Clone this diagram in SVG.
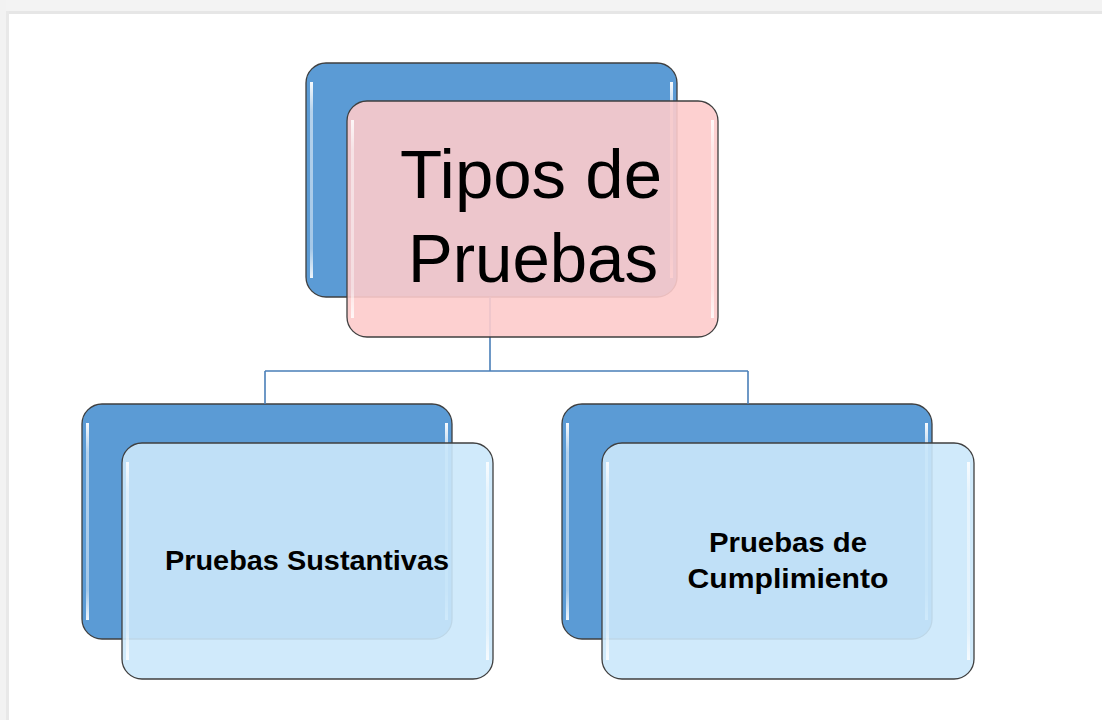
<svg xmlns="http://www.w3.org/2000/svg" width="1102" height="720" viewBox="0 0 1102 720">
  <style>
    .back { fill: #5b9bd5; stroke: #3f3f3f; stroke-width: 1.3; }
    .front-pink { fill: #fdcbcb; fill-opacity: 0.9; stroke: #3f3f3f; stroke-width: 1.3; }
    .front-blue { fill: #cbe8fb; fill-opacity: 0.9; stroke: #3f3f3f; stroke-width: 1.3; }
    .gloss { stroke: #ffffff; stroke-width: 3; stroke-linecap: round; fill: none; }
    .conn { fill: none; stroke: #4a7fb8; stroke-width: 1.6; }
    .big { font-family: "Liberation Sans", Arial, sans-serif; font-size: 68px; fill: #000; text-anchor: middle; }
    .small { font-family: "Liberation Sans", Arial, sans-serif; font-weight: bold; font-size: 28px; fill: #000; text-anchor: middle; }
  </style>
  <defs>
    <linearGradient id="glossV" x1="0" y1="0" x2="0" y2="1">
      <stop offset="0" stop-color="#fff" stop-opacity="0.95"/>
      <stop offset="0.15" stop-color="#fff" stop-opacity="0.55"/>
      <stop offset="0.85" stop-color="#fff" stop-opacity="0.45"/>
      <stop offset="1" stop-color="#fff" stop-opacity="0.9"/>
    </linearGradient>
  </defs>

  <!-- page background -->
  <rect x="0" y="0" width="1102" height="720" fill="#ffffff"/>
  <rect x="0" y="0" width="1102" height="11" fill="#f3f3f3"/>
  <rect x="0" y="11" width="1102" height="3" fill="#e6e6e6"/>
  <rect x="0" y="0" width="6" height="720" fill="#f2f2f2"/>
  <rect x="6" y="11" width="3" height="709" fill="#e8e8e8"/>

  <!-- back boxes -->
  <g id="back-top">
    <rect class="back" x="306" y="63" width="371" height="234" rx="20"/>
    <rect x="310" y="82" width="3" height="196" fill="url(#glossV)"/>
    <rect x="670" y="82" width="3" height="196" fill="url(#glossV)"/>
  </g>
  <g id="back-left">
    <rect class="back" x="82" y="404" width="370" height="235" rx="20"/>
    <rect x="86" y="423" width="3" height="197" fill="url(#glossV)"/>
    <rect x="445" y="423" width="3" height="197" fill="url(#glossV)"/>
  </g>
  <g id="back-right">
    <rect class="back" x="562" y="404" width="370" height="235" rx="20"/>
    <rect x="566" y="423" width="3" height="197" fill="url(#glossV)"/>
    <rect x="925" y="423" width="3" height="197" fill="url(#glossV)"/>
  </g>

  <!-- connectors -->
  <g id="connectors">
    <path class="conn" d="M490,297 V371 M265,371 H748 M265,371 V404 M748,371 V404"/>
  </g>

  <!-- front boxes -->
  <g id="node-tipos">
    <rect class="front-pink" x="347" y="101" width="371" height="236" rx="20"/>
    <rect x="351" y="120" width="3" height="198" fill="url(#glossV)" opacity="0.9"/>
    <rect x="711" y="120" width="3" height="198" fill="url(#glossV)" opacity="0.9"/>
    <text class="big" x="531" y="198" textLength="262" lengthAdjust="spacingAndGlyphs">Tipos de</text>
    <text class="big" x="533" y="282" textLength="250" lengthAdjust="spacingAndGlyphs">Pruebas</text>
  </g>
  <g id="node-sustantivas">
    <rect class="front-blue" x="122" y="443" width="371" height="236" rx="20"/>
    <rect x="126" y="462" width="3" height="198" fill="url(#glossV)" opacity="0.9"/>
    <rect x="486" y="462" width="3" height="198" fill="url(#glossV)" opacity="0.9"/>
    <text class="small" x="307" y="570" textLength="284" lengthAdjust="spacingAndGlyphs">Pruebas Sustantivas</text>
  </g>
  <g id="node-cumplimiento">
    <rect class="front-blue" x="602" y="443" width="372" height="236" rx="20"/>
    <rect x="606" y="462" width="3" height="198" fill="url(#glossV)" opacity="0.9"/>
    <rect x="967" y="462" width="3" height="198" fill="url(#glossV)" opacity="0.9"/>
    <text class="small" x="788" y="552" textLength="158" lengthAdjust="spacingAndGlyphs">Pruebas de</text>
    <text class="small" x="788" y="588" textLength="201" lengthAdjust="spacingAndGlyphs">Cumplimiento</text>
  </g>
</svg>
